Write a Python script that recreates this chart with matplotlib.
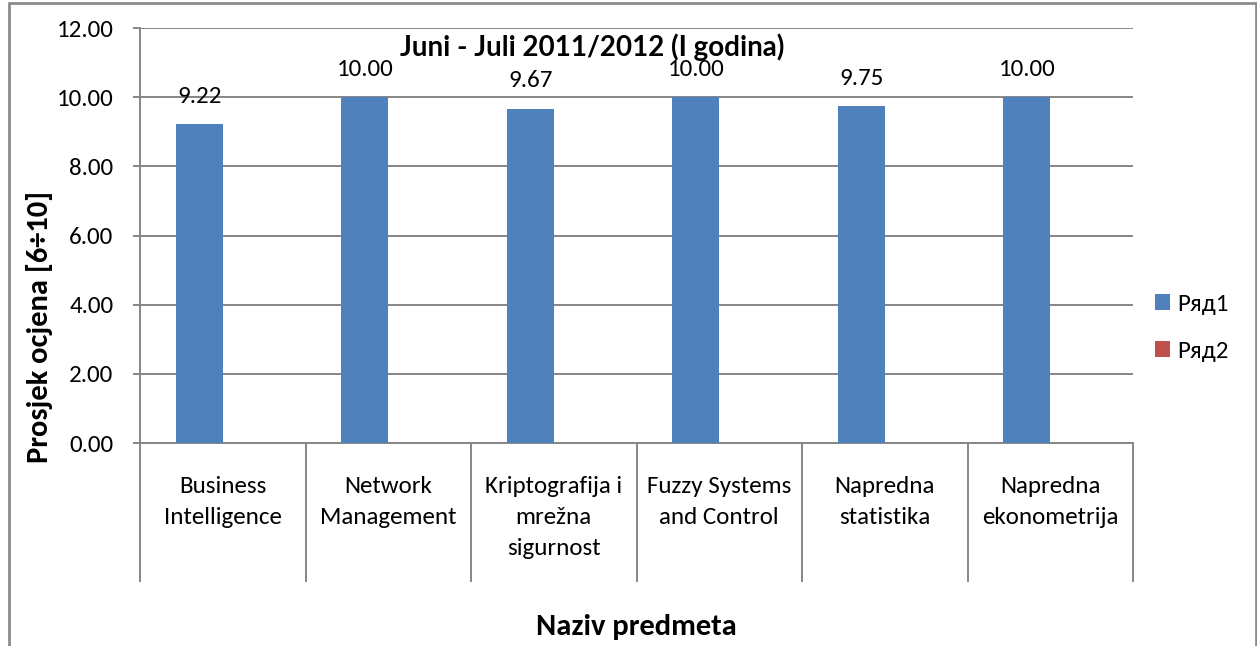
import numpy as np
import matplotlib.pyplot as plt
import matplotlib.transforms as mtransforms
from matplotlib.patches import Rectangle

# Chart data
categories = ["Business\nIntelligence", "Network\nManagement", "Kriptografija i\nmrežna\nsigurnost",
              "Fuzzy Systems\nand Control", "Napredna\nstatistika", "Napredna\nekonometrija"]
series1 = [9.22, 10.00, 9.67, 10.00, 9.75, 10.00]
series2 = [0, 0, 0, 0, 0, 0]
series_names = ["Ряд1", "Ряд2"]
yticks = [0, 2, 4, 6, 8, 10, 12]

plt.rcParams['font.family'] = ['Carlito', 'Lato', 'DejaVu Sans']
W, H = 1257, 646
fig = plt.figure(figsize=(W / 100, H / 100), dpi=100)
ax = fig.add_axes([140 / W, 1 - 443 / H, 993 / W, 415 / H])

grid_c = "#868686"
fs = 18
x = np.arange(len(categories))
bw = 0.284
b1 = ax.bar(x - bw / 2, series1, bw, color="#4F81BD", label=series_names[0], zorder=3)
ax.bar(x + bw / 2, series2, bw, color="#C0504D", label=series_names[1], zorder=3, linewidth=0)

for rect, v in zip(b1, series1):
    ax.annotate(f"{v:.2f}", (rect.get_x() + rect.get_width() / 2, v), xytext=(0, 20),
                textcoords="offset points", ha="center", va="center", fontsize=fs)

ax.set_xlim(-0.5, len(categories) - 0.5)
ax.set_ylim(0, 12)
ax.set_yticks(yticks)
ax.set_yticklabels([f"{t:.2f}" for t in yticks], fontsize=fs)
ax.yaxis.grid(True, color=grid_c, linewidth=1.4, zorder=0)
ax.tick_params(axis="y", length=5, color=grid_c, width=1.4, pad=14)
ax.set_xticks([])
for s in ["top", "right"]:
    ax.spines[s].set_visible(False)
for s in ["left", "bottom"]:
    ax.spines[s].set_color(grid_c)
    ax.spines[s].set_linewidth(1.4)

# category separators below the axis
trans = mtransforms.blended_transform_factory(ax.transData, ax.transAxes)
depth = (581 - 443) / 415
for b in np.arange(-0.5, len(categories), 1.0):
    ax.plot([b, b], [0, -depth], transform=trans, color=grid_c, linewidth=1.4, clip_on=False)
for i, c in enumerate(categories):
    ax.text(i, -(476 - 443) / 415, c, transform=trans, ha="center", va="top",
            fontsize=fs, linespacing=1.6)

fig.text(40 / W, 1 - 327 / H, "Prosjek ocjena [6÷10]", rotation=90, ha="center", va="center",
         fontsize=22, fontweight="bold")
fig.text(636 / W, 1 - 627 / H, "Naziv predmeta", ha="center", va="center", fontsize=22, fontweight="bold")
fig.text(592 / W, 1 - 47 / H, "Juni - Juli 2011/2012 (I godina)", ha="center", va="center",
         fontsize=20, fontweight="bold", family=['Liberation Sans Narrow', 'Lato', 'DejaVu Sans'])

ax.legend(loc="center left", bbox_to_anchor=(1005 / 993, (443 - 328) / 415), frameon=False, fontsize=fs,
          handlelength=0.6, handleheight=0.6, handletextpad=0.3, labelspacing=1.05, borderaxespad=0)

fig.add_artist(Rectangle((9 / W, -0.1), 1247 / W, 1.1 - 3 / H, transform=fig.transFigure,
                         fill=False, edgecolor="#8c8c8c", linewidth=2))

fig.savefig("out.png", dpi=100)
